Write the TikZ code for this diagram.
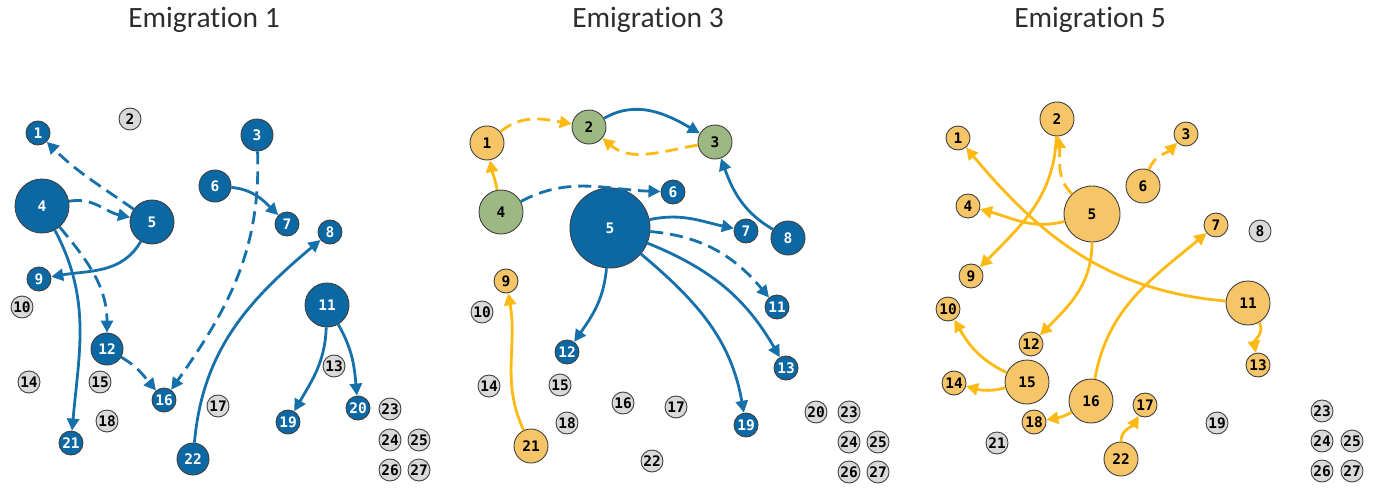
\documentclass[tikz,border=0pt]{standalone}
\usepackage{fontspec}
\setmainfont[Ligatures={NoCommon,NoDiscretionary,NoRare}]{Carlito}
\newfontfamily\lblfont{DejaVu Sans Mono Bold}
\usetikzlibrary{arrows.meta}
\definecolor{nblue}{RGB}{11,104,163}
\definecolor{eblue}{RGB}{22,112,170}
\definecolor{norange}{RGB}{246,197,104}
\definecolor{eorange}{RGB}{253,186,20}
\definecolor{ngreen}{RGB}{157,185,131}
\definecolor{ngray}{RGB}{218,218,218}
\definecolor{ttl}{RGB}{45,45,45}
\tikzset{
  nd/.style={circle, draw=black!75, line width=0.9pt, inner sep=0pt, font=\lblfont\fontsize{14.5}{14.5}\selectfont},
  bl/.style={nd, fill=nblue, text=white},
  og/.style={nd, fill=norange, text=black},
  gr/.style={nd, fill=ngreen, text=black},
  gy/.style={nd, fill=ngray, text=black, minimum size=22},
  ed/.style={line width=2.8pt, -{Triangle[length=12pt,width=12pt]}},
  eb/.style={ed, draw=eblue},
  eo/.style={ed, draw=eorange},
  dsh/.style={dash pattern=on 13pt off 7pt},
  ttlstyle/.style={font=\fontsize{29.5}{32}\selectfont, text=ttl}
}
\begin{document}
\begin{tikzpicture}[x=1pt,y=1pt]
\useasboundingbox (0,0) rectangle (1375,-487);
% titles
\node[ttlstyle] (t1) at (204,-20) {Emigration 1};
\node[ttlstyle] (t3) at (648,-20) {Emigration 3};
\node[ttlstyle] (t5) at (1090,-20) {Emigration 5};

% ---------------- Panel 1 ----------------
\node[bl,minimum size=24] (a1) at (38,-133) {1};
\node[gy] (a2) at (130,-119) {2};
\node[bl,minimum size=32] (a3) at (257,-135) {3};
\node[bl,minimum size=54] (a4) at (42,-206) {4};
\node[bl,minimum size=44] (a5) at (152,-222) {5};
\node[bl,minimum size=32] (a6) at (215,-186) {6};
\node[bl,minimum size=24] (a7) at (287,-224) {7};
\node[bl,minimum size=24] (a8) at (330,-232) {8};
\node[bl,minimum size=24] (a9) at (39,-279) {9};
\node[gy] (a10) at (22,-307) {10};
\node[bl,minimum size=44] (a11) at (327,-305) {11};
\node[bl,minimum size=32] (a12) at (107,-349) {12};
\node[gy] (a13) at (334,-366) {13};
\node[gy] (a14) at (29,-382) {14};
\node[gy] (a15) at (100,-382) {15};
\node[bl,minimum size=24] (a16) at (164,-400) {16};
\node[gy] (a17) at (218,-406) {17};
\node[gy] (a18) at (107,-421) {18};
\node[bl,minimum size=24] (a19) at (288,-422) {19};
\node[bl,minimum size=24] (a20) at (358,-408) {20};
\node[bl,minimum size=24] (a21) at (71,-443) {21};
\node[bl,minimum size=32] (a22) at (193,-459) {22};
\node[gy] (a23) at (390,-409) {23};
\node[gy] (a24) at (390,-440) {24};
\node[gy] (a25) at (419,-440) {25};
\node[gy] (a26) at (390,-470) {26};
\node[gy] (a27) at (419,-470) {27};

\draw[eb,dsh] (a5) to[out=145,in=-45] (a1);
\draw[eb,dsh] (a4) to[out=10,in=168] (a5);
\draw[eb] (a5) to[out=-120,in=10] (a9);
\draw[eb,dsh] (a4) to[out=-50,in=90] (a12);
\draw[eb] (a4) to[out=-62,in=85] (a21);
\draw[eb,dsh] (a12) to[out=-30,in=130] (a16);
\draw[eb,dsh] (a3) to[out=-88,in=55] (a16);
\draw[eb] (a6) to[out=-5,in=135] (a7);
\draw[eb] (a22) to[out=85,in=-140] (a8);
\draw[eb] (a11) to[out=-92,in=60] (a19);
\draw[eb] (a11) to[out=-60,in=95] (a20);

% ---------------- Panel 2 ----------------
\node[og,minimum size=34] (b1) at (487,-143) {1};
\node[gr,minimum size=34] (b2) at (589,-127) {2};
\node[gr,minimum size=34] (b3) at (715,-142) {3};
\node[gr,minimum size=44] (b4) at (501,-212) {4};
\node[bl,minimum size=80] (b5) at (610,-228) {5};
\node[bl,minimum size=24] (b6) at (673,-192) {6};
\node[bl,minimum size=24] (b7) at (746,-231) {7};
\node[bl,minimum size=34] (b8) at (788,-238) {8};
\node[og,minimum size=24] (b9) at (506,-281) {9};
\node[gy] (b10) at (482,-312) {10};
\node[bl,minimum size=24] (b11) at (777,-307) {11};
\node[bl,minimum size=24] (b12) at (567,-352) {12};
\node[bl,minimum size=24] (b13) at (786,-368) {13};
\node[gy] (b14) at (489,-386) {14};
\node[gy] (b15) at (560,-385) {15};
\node[gy] (b16) at (623,-403) {16};
\node[gy] (b17) at (676,-407) {17};
\node[gy] (b18) at (567,-423) {18};
\node[bl,minimum size=24] (b19) at (746,-425) {19};
\node[gy] (b20) at (816,-412) {20};
\node[og,minimum size=34] (b21) at (531,-446) {21};
\node[gy] (b22) at (652,-461) {22};
\node[gy] (b23) at (849,-412) {23};
\node[gy] (b24) at (849,-442) {24};
\node[gy] (b25) at (878,-442) {25};
\node[gy] (b26) at (849,-472) {26};
\node[gy] (b27) at (878,-472) {27};

\draw[eo] (b4) to[out=100,in=-80] (b1);
\draw[eo,dsh] (b1) to[out=40,in=170] (b2);
\draw[eb] (b2) to[out=30,in=150] (b3);
\draw[eo,dsh] (b3) to[out=190,in=-40] (b2);
\draw[eb,dsh] (b4) to[out=28,in=178] (b6);
\draw[eb] (b8) to[out=150,in=-70] (b3);
\draw[eb] (b5) to[out=12,in=168] (b7);
\draw[eb,dsh] (b5) to[out=-5,in=130] (b11);
\draw[eb] (b5) to[out=-22,in=120] (b13);
\draw[eb] (b5) to[out=-40,in=100] (b19);
\draw[eb] (b5) to[out=-95,in=55] (b12);
\draw[eo] (b21) to[out=115,in=-80] (b9);

% ---------------- Panel 3 ----------------
\node[og,minimum size=24] (c1) at (958,-138) {1};
\node[og,minimum size=34] (c2) at (1057,-119) {2};
\node[og,minimum size=24] (c3) at (1186,-134) {3};
\node[og,minimum size=24] (c4) at (968,-206) {4};
\node[og,minimum size=56] (c5) at (1092,-214) {5};
\node[og,minimum size=34] (c6) at (1143,-186) {6};
\node[og,minimum size=24] (c7) at (1216,-225) {7};
\node[gy] (c8) at (1260,-231) {8};
\node[og,minimum size=24] (c9) at (971,-276) {9};
\node[og,minimum size=24] (c10) at (948,-309) {10};
\node[og,minimum size=44] (c11) at (1248,-303) {11};
\node[og,minimum size=24] (c12) at (1031,-344) {12};
\node[og,minimum size=24] (c13) at (1258,-365) {13};
\node[og,minimum size=24] (c14) at (954,-383) {14};
\node[og,minimum size=44] (c15) at (1027,-382) {15};
\node[og,minimum size=44] (c16) at (1091,-401) {16};
\node[og,minimum size=24] (c17) at (1145,-405) {17};
\node[og,minimum size=24] (c18) at (1034,-422) {18};
\node[gy] (c19) at (1217,-423) {19};
\node[gy] (c21) at (997,-443) {21};
\node[og,minimum size=34] (c22) at (1121,-459) {22};
\node[gy] (c23) at (1322,-411) {23};
\node[gy] (c24) at (1322,-441) {24};
\node[gy] (c25) at (1352,-441) {25};
\node[gy] (c26) at (1322,-471) {26};
\node[gy] (c27) at (1352,-471) {27};

\draw[eo,dsh] (c5) to[out=135,in=-85] (c2);
\draw[eo] (c2) to[out=-92,in=45] (c9);
\draw[eo] (c5) to[out=195,in=-15] (c4);
\draw[eo] (c11) to[out=175,in=-50] (c1);
\draw[eo] (c5) to[out=-90,in=45] (c12);
\draw[eo] (c15) to[out=155,in=-60] (c10);
\draw[eo] (c15) to[out=195,in=-15] (c14);
\draw[eo] (c16) to[out=-150,in=10] (c18);
\draw[eo] (c16) to[out=80,in=-140] (c7);
\draw[eo] (c22) to[out=90,in=-120] (c17);
\draw[eo,dsh] (c6) to[out=70,in=-135] (c3);
\draw[eo] (c11) to[out=-60,in=100] (c13);
\end{tikzpicture}
\end{document}
